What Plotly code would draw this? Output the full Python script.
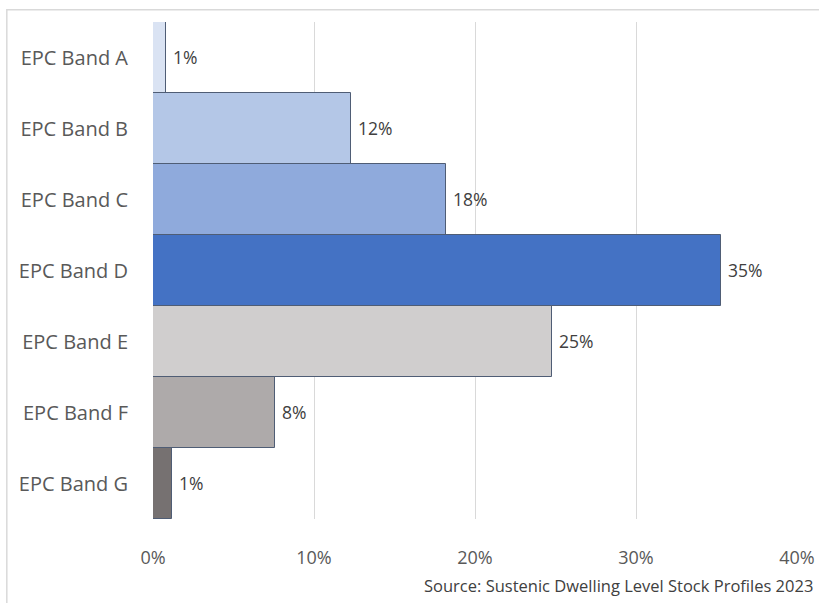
import plotly.graph_objects as go

# EPC band distribution of the dwelling stock (percent of dwellings)
bands = ["EPC Band A", "EPC Band B", "EPC Band C", "EPC Band D",
         "EPC Band E", "EPC Band F", "EPC Band G"]
shares = [0.8, 12.3, 18.2, 35.3, 24.8, 7.6, 1.2]
colors = ["#dae3f3", "#b4c7e7", "#8faadc", "#4472c4",
          "#d0cece", "#aeaaaa", "#767171"]
tick_vals = [0, 10, 20, 30, 40]
tick_text = ["0%", "10%", "20%", "30%", "40%"]

FONT = "Open Sans, Noto Sans, sans-serif"

fig = go.Figure(go.Bar(
    y=bands,
    x=shares,
    orientation="h",
    marker=dict(color=colors, line=dict(color="#4f5d75", width=1)),
    texttemplate=" %{x:.0f}%",
    textposition="outside",
    textfont=dict(family=FONT, size=17.5, color="#404040"),
    cliponaxis=False,
    hoverinfo="skip",
))

fig.update_layout(
    width=819, height=603,
    margin=dict(l=153, r=22, t=22, b=84, autoexpand=False),
    paper_bgcolor="white",
    plot_bgcolor="white",
    bargap=0,
    showlegend=False,
    font=dict(family=FONT, color="#595959"),
    shapes=[dict(
        type="rect", xref="paper", yref="paper",
        x0=-0.227, x1=1.5, y0=-0.3, y1=1.0245,
        line=dict(color="#d9d9d9", width=1.5), fillcolor="rgba(0,0,0,0)",
        layer="below",
    )],
    annotations=[dict(
        text="Source: Sustenic Dwelling Level Stock Profiles 2023",
        xref="paper", yref="paper", x=0.417, y=-0.133,
        xanchor="left", yanchor="middle", showarrow=False,
        font=dict(family=FONT, size=16.5, color="#404040"),
    )],
)

fig.update_xaxes(
    range=[0, 40], tickvals=tick_vals, ticktext=tick_text,
    showgrid=True, gridcolor="#d9d9d9", gridwidth=1,
    zeroline=False, showline=False, automargin=False,
    ticks="outside", ticklen=22, tickcolor="rgba(0,0,0,0)",
    tickfont=dict(family=FONT, size=18, color="#595959"),
    fixedrange=True,
)
fig.update_yaxes(
    categoryorder="array", categoryarray=bands, autorange="reversed",
    showgrid=False, zeroline=False, showline=False, automargin=False,
    ticks="outside", ticklen=20, tickcolor="rgba(0,0,0,0)",
    tickfont=dict(family=FONT, size=20, color="#595959"),
    fixedrange=True,
)

fig.write_html("out.html")
